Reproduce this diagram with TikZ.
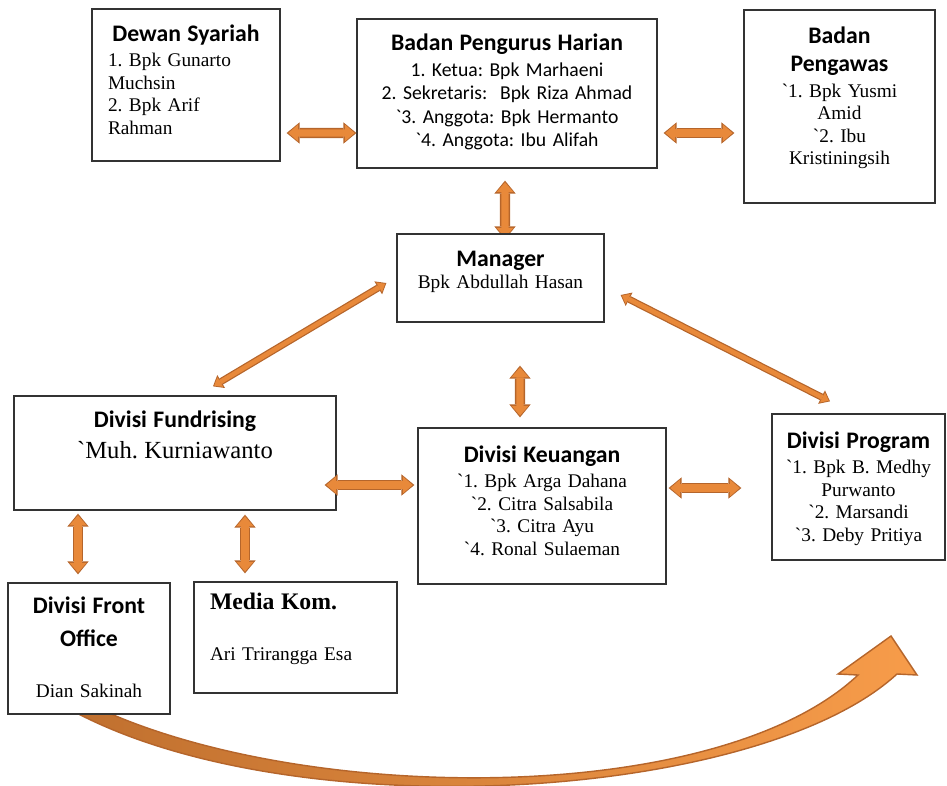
\documentclass[tikz,border=0pt]{standalone}
\usepackage{fontspec}
\setmainfont{Liberation Serif}
\newfontfamily\calfont{Carlito}
\usepackage{tikz}
\usetikzlibrary{arrows.meta,positioning,calc,backgrounds}
\definecolor{orgLine}{HTML}{333333}
\definecolor{arrowFill}{HTML}{E8893A}
\definecolor{arrowEdge}{HTML}{B5652B}
\definecolor{curveDark}{HTML}{C0702F}
\definecolor{curveLight}{HTML}{F79C4A}
\newcommand\hd{\calfont\bfseries\fontsize{13.5}{16}\selectfont}
\newcommand\calbody{\calfont\fontsize{11.2}{13.3}\selectfont}
\newcommand\gq{\textasciigrave}
\newcommand\ttl[1]{{\centering\hd #1\par}\vspace{1.6pt}}
\frenchspacing

\begin{document}
\begin{tikzpicture}[x=0.02cm,y=-0.02cm,
  box/.style={draw=orgLine,line width=0.75pt,fill=white,inner sep=0pt},
  txt/.style={inner sep=0pt,align=center,text width=#1,font=\fontsize{11}{12.8}\selectfont},
  blockarrow/.style={draw=arrowFill,line width=4.2pt,
    {Triangle[width=9.8pt,length=5.6pt,line width=0pt]}-{Triangle[width=9.8pt,length=5.6pt,line width=0pt]},
    shorten <=1pt,shorten >=1pt,
    preaction={draw=arrowEdge,line width=5.8pt,
      {Triangle[width=12.2pt,length=7.4pt,line width=0pt]}-{Triangle[width=12.2pt,length=7.4pt,line width=0pt]},
      shorten <=0pt,shorten >=0pt}},
  thinarrow/.style={draw=arrowFill,line width=2.6pt,
    {Triangle[width=6.4pt,length=4pt,line width=0pt]}-{Triangle[width=6.4pt,length=4pt,line width=0pt]},
    shorten <=0.8pt,shorten >=0.8pt,
    preaction={draw=arrowEdge,line width=4pt,
      {Triangle[width=8.6pt,length=5.4pt,line width=0pt]}-{Triangle[width=8.6pt,length=5.4pt,line width=0pt]},
      shorten <=0pt,shorten >=0pt}}
]
  \useasboundingbox (0,0) rectangle (947,785);

  % top row
  \node[box,minimum width=3.76cm,minimum height=3.04cm] (dewan) at (186,85) {};
  \node[txt=3.12cm,align=left,below=0.32cm of dewan.north] (dewanTxt)
    {\ttl{Dewan Syariah}1. Bpk Gunarto\\Muchsin\\2. Bpk Arif\\Rahman};

  \node[box,minimum width=6cm,minimum height=2.98cm] (bph) at (507,93.5) {};
  \node[txt=5.8cm,below=0.30cm of bph.north] (bphTxt)
    {\ttl{Badan Pengurus Harian}{\calbody 1. Ketua: Bpk Marhaeni\\2. Sekretaris:\ \ Bpk Riza Ahmad\\
     \gq 3. Anggota: Bpk Hermanto\\\gq 4. Anggota: Ibu Alifah\par}};

  \node[box,minimum width=3.82cm,minimum height=3.86cm] (pengawas) at (839.5,106.5) {};
  \node[txt=3.6cm,below=0.34cm of pengawas.north] (pengawasTxt)
    {{\hd Badan\\Pengawas\par}\vspace{1.9pt}\gq 1. Bpk Yusmi\\Amid\\\gq 2. Ibu\\Kristiningsih};

  % manager
  \node[box,minimum width=4.14cm,minimum height=1.76cm] (manager) at (500.5,278) {};
  \node[txt=3.9cm,below=0.34cm of manager.north] (managerTxt)
    {{\hd Manager\par}Bpk Abdullah Hasan};

  % divisions
  \node[box,minimum width=6.44cm,minimum height=2.28cm] (fund) at (175,453) {};
  \node[txt=6.2cm,below=0.30cm of fund.north] (fundTxt)
    {{\hd Divisi Fundrising\par}{\fontsize{14}{17.6}\selectfont\gq Muh. Kurniawanto\par}};

  \node[box,minimum width=4.96cm,minimum height=3.12cm] (keu) at (542,506) {};
  \node[txt=4.7cm,below=0.36cm of keu.north] (keuTxt)
    {\ttl{Divisi Keuangan}\gq 1. Bpk Arga Dahana\\\gq 2. Citra Salsabila\\\gq 3. Citra Ayu\\\gq 4. Ronal Sulaeman};

  \node[box,minimum width=3.46cm,minimum height=2.92cm] (program) at (858.5,487) {};
  \node[txt=3.3cm,below=0.36cm of program.north] (programTxt)
    {\ttl{Divisi Program}\gq 1. Bpk B. Medhy\\Purwanto\\\gq 2. Marsandi\\\gq 3. Deby Pritiya};

  \node[box,minimum width=3.24cm,minimum height=2.62cm] (front) at (89,648.5) {};
  \node[txt=3cm,below=0.28cm of front.north] (frontTxt)
    {{\hd Divisi Front\\[3pt]Office\par}\vspace{16pt}Dian Sakinah};

  \node[box,minimum width=4.06cm,minimum height=2.22cm] (media) at (295.5,637.5) {};
  \node[txt=3.42cm,align=left,below=0.22cm of media.north] (mediaTxt)
    {{\fontsize{13.5}{16}\selectfont\bfseries Media Kom.\par}\vspace{16.7pt}Ari Trirangga Esa};

  \begin{scope}[on background layer]
    \clip (0,0) rectangle (947,785);
    % big curved arrow
    \path[draw=arrowEdge,line width=0.8pt,left color=curveDark,right color=curveLight]
      ($(front.south)+(-13,-2)$) .. controls (300,830) and (760,800) .. (897,674)
      -- (917,675) -- (891,636) -- (838,674) -- (858,675)
      .. controls (720,805) and (320,805) .. ($(front.south)+(19,-2)$) -- cycle;
    \draw[blockarrow] ($(bph.south)+(-2,12)$) -- ($(manager.north)+(4.5,6)$);
  \end{scope}

  \draw[blockarrow] ($(dewan.east)+(6,48)$) -- ($(bph.west)+(0,39.5)$);
  \draw[blockarrow] ($(bph.east)+(6,39.5)$) -- ($(pengawas.west)+(-9,26.5)$);
  \draw[thinarrow] ($(manager.west)+(-10,5)$) -- ($(fund.north)+(38,-9)$);
  \draw[thinarrow] ($(manager.east)+(16,17)$) -- ($(program.north)+(-28.5,-12)$);
  \draw[blockarrow] ($(manager.south)+(19.5,43)$) -- ($(keu.north)+(-22,-10)$);
  \draw[blockarrow] ($(fund.east)+(-12,32)$) -- ($(keu.west)+(-3,-21)$);
  \draw[blockarrow] ($(keu.east)+(2,-18)$) -- ($(program.west)+(-30,1)$);
  \draw[blockarrow] ($(fund.south)+(-97,3)$) -- ($(front.north)+(-11,-8)$);
  \draw[blockarrow] ($(fund.south)+(70,4)$) -- ($(media.north)+(-50.5,-8)$);
\end{tikzpicture}
\end{document}
